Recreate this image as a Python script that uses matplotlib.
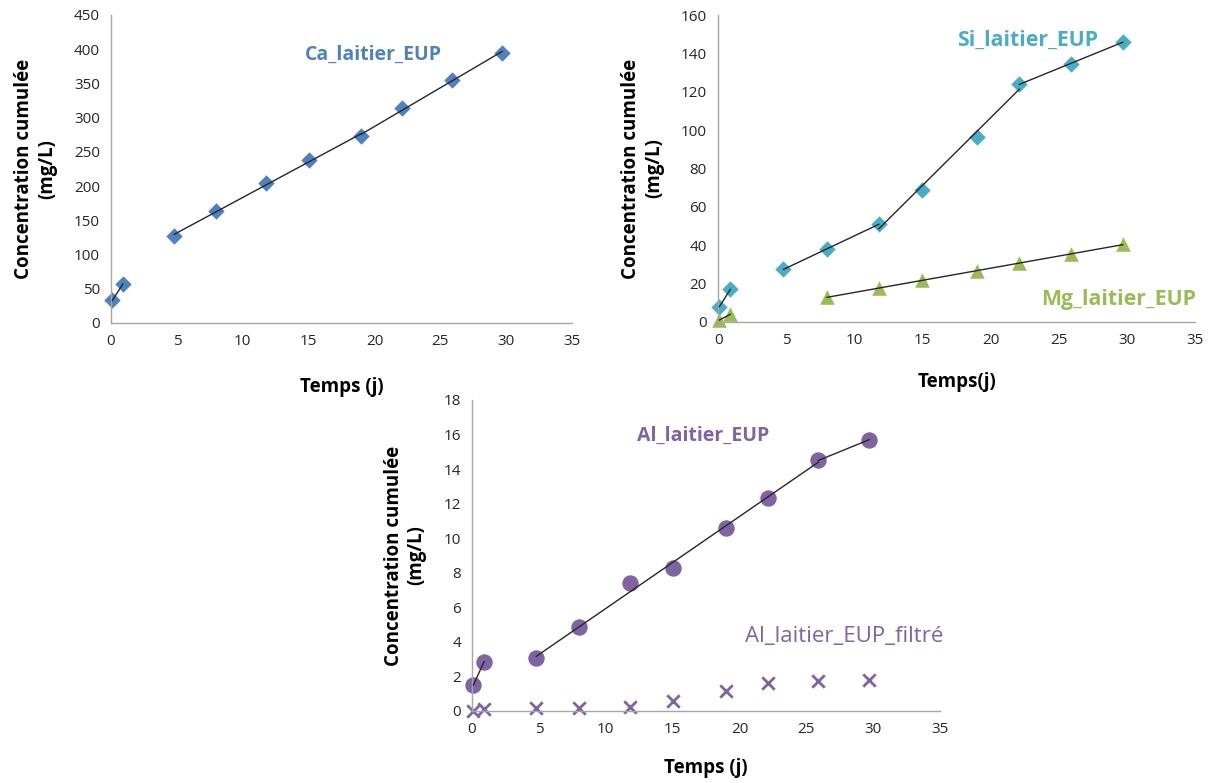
import numpy as np
import matplotlib.pyplot as plt

plt.rcParams['font.family'] = ['Open Sans', 'DejaVu Sans']

# sampling times (days)
t = [0.1, 0.9, 4.8, 8.0, 11.8, 15.0, 19.0, 22.1, 25.9, 29.7]
t_mg = [0.1, 0.9, 8.0, 11.8, 15.0, 19.0, 22.1, 25.9, 29.7]

ca = [33, 57, 127, 163, 205, 238, 273, 314, 355, 395]
si = [8, 17, 27.5, 38, 51, 69, 96.5, 124, 134.5, 146]
mg = [1, 4, 13, 17.5, 22, 26.5, 30.5, 35.5, 40.5]
al = [1.5, 2.85, 3.05, 4.85, 7.4, 8.25, 10.6, 12.35, 14.5, 15.7]
al_filt = [0.0, 0.1, 0.15, 0.15, 0.25, 0.55, 1.15, 1.6, 1.75, 1.8]

# index ranges of the trend segments drawn in black
ca_seg = [(0, 2), (2, 7), (6, 10)]
si_seg = [(0, 2), (2, 5), (4, 8), (7, 10)]
mg_seg = [(0, 2), (2, 9)]
al_seg = [(0, 2), (2, 9), (8, 10)]

blue = '#4f81bd'
cyan = '#4bacc6'
green = '#9bbb59'
purple = '#8064a2'

fig = plt.figure(figsize=(12.15, 7.83), dpi=100)


def style(ax, ymax, ystep):
    ax.set_xlim(0, 35)
    ax.set_ylim(0, ymax)
    ax.set_xticks(range(0, 36, 5))
    ax.set_yticks(np.arange(0, ymax + ystep / 2, ystep))
    for s in ['top', 'right']:
        ax.spines[s].set_visible(False)
    for s in ['left', 'bottom']:
        ax.spines[s].set_color('#a6a6a6')
        ax.spines[s].set_linewidth(1)
    ax.tick_params(length=0, labelsize=11, colors='#262626', pad=8)


def trend(ax, x, y, segs):
    x = np.array(x)
    y = np.array(y)
    for a, b in segs:
        p = np.polyfit(x[a:b], y[a:b], 1)
        xs = np.array([x[a], x[b - 1]])
        ax.plot(xs, np.polyval(p, xs), color='#262626', lw=1, zorder=3)


ylab = 'Concentration cumulée\n(mg/L)'
lab_kw = dict(fontsize=13.5, fontweight='bold', color='#000000')
mk = dict(zorder=2, linewidths=0, clip_on=False)

# Ca
ax1 = fig.add_axes([0.0914, 0.5875, 0.3794, 0.3934])
style(ax1, 450, 50)
ax1.scatter(t, ca, marker='D', s=70, color=blue, **mk)
trend(ax1, t, ca, ca_seg)
ax1.set_xlabel('Temps (j)', labelpad=20, **lab_kw)
ax1.set_ylabel(ylab, labelpad=12, **lab_kw)
ax1.text(14.7, 392, 'Ca_laitier_EUP', color=blue, fontsize=14,
         fontweight='bold', va='center')

# Si / Mg
ax2 = fig.add_axes([0.591, 0.5888, 0.3926, 0.392])
style(ax2, 160, 20)
ax2.scatter(t, si, marker='D', s=70, color=cyan, **mk)
ax2.scatter(t_mg, mg, marker='^', s=110, color=green, **mk)
trend(ax2, t, si, si_seg)
trend(ax2, t_mg, mg, mg_seg)
ax2.set_xlabel('Temps(j)', labelpad=17, **lab_kw)
ax2.set_ylabel(ylab, labelpad=12, **lab_kw)
ax2.text(17.5, 147, 'Si_laitier_EUP', color=cyan, fontsize=15.3,
         fontweight='bold', va='center')
ax2.text(23.7, 11.5, 'Mg_laitier_EUP', color=green, fontsize=15.3,
         fontweight='bold', va='center')

# Al
ax3 = fig.add_axes([0.3885, 0.092, 0.3852, 0.3972])
style(ax3, 18, 2)
ax3.scatter(t, al, marker='o', s=140, color=purple, **mk)
ax3.scatter(t, al_filt, marker='x', s=80, color=purple, zorder=2,
            linewidths=2, clip_on=False)
trend(ax3, t, al, al_seg)
ax3.set_xlabel('Temps (j)', labelpad=15, **lab_kw)
ax3.set_ylabel(ylab, labelpad=12, **lab_kw)
ax3.text(12.3, 15.9, 'Al_laitier_EUP', color=purple, fontsize=14,
         fontweight='bold', va='center')
ax3.text(20.4, 4.3, 'Al_laitier_EUP_filtré', color=purple, fontsize=16,
         va='center')

fig.savefig('out.png', dpi=100)
